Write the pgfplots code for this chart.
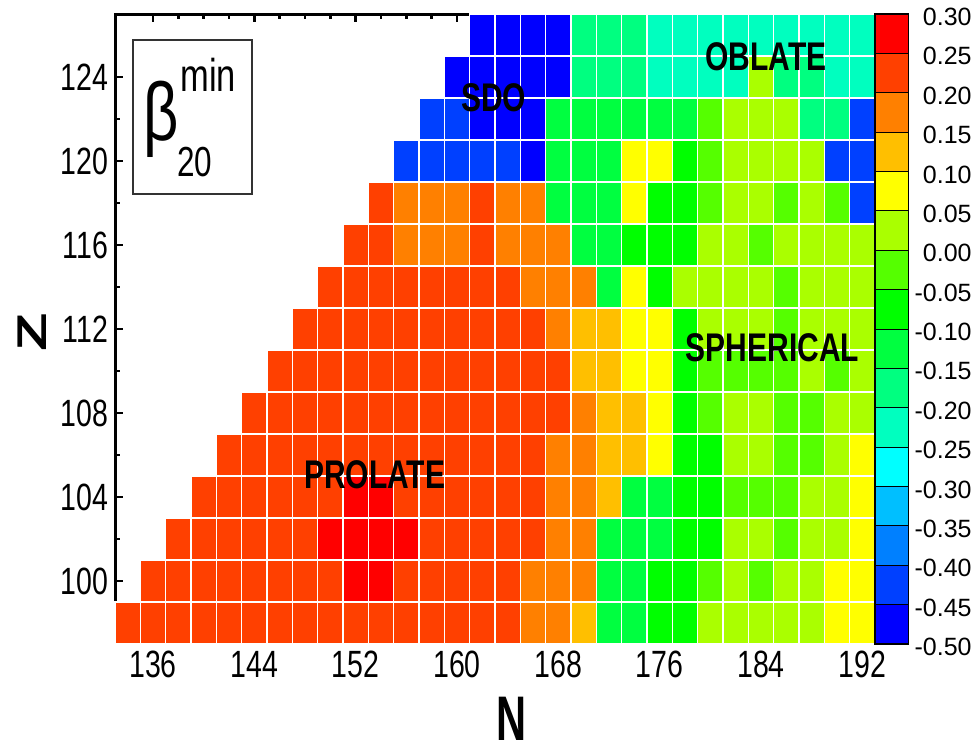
\documentclass[border=0pt]{standalone}
\usepackage{pgfplots}
\usepackage{pgfplotstable}
\pgfplotsset{compat=1.18}
\usepackage{fontspec}
\setmainfont{Liberation Sans}
\newfontfamily\narrowsans{Liberation Sans}[FakeStretch=0.75]
\newfontfamily\narrowersans{Liberation Sans}[FakeStretch=0.66]

% one nucleus = one 2x2 cell (12.667pt x 21pt at the chosen axis size)
\pgfdeclareplotmark{betacell}{%
  \pgfpathrectangle{\pgfpoint{-6.3333pt}{-10.5pt}}{\pgfpoint{12.6667pt}{21pt}}%
  \pgfusepathqfillstroke}
% one band of the colour scale (16 bands over 315pt)
\pgfdeclareplotmark{barcell}{%
  \pgfpathrectangle{\pgfpoint{-8.25pt}{-9.84375pt}}{\pgfpoint{16.5pt}{19.6875pt}}%
  \pgfusepathqfillstroke}

% sixteen bands of width 0.05 from -0.50 to 0.30
\pgfplotsset{
  colormap={betamap}{
    rgb255=(0,0,255) rgb255=(0,64,255) rgb255=(0,128,255) rgb255=(0,191,255)
    rgb255=(0,255,255) rgb255=(0,255,191) rgb255=(0,255,128) rgb255=(0,255,64)
    rgb255=(0,255,0) rgb255=(85,255,0) rgb255=(170,255,0) rgb255=(255,255,0)
    rgb255=(255,191,0) rgb255=(255,128,0) rgb255=(255,64,0) rgb255=(255,0,0)},
}

% ground-state quadrupole deformation beta_20 of even-even nuclei
\pgfplotstableread[row sep=\\]{
N Z b\\
% Z = 98
134 98 0.225\\ 136 98 0.225\\ 138 98 0.225\\ 140 98 0.225\\ 142 98 0.225\\ 144 98 0.225\\
146 98 0.225\\ 148 98 0.225\\ 150 98 0.225\\ 152 98 0.225\\ 154 98 0.225\\ 156 98 0.225\\
158 98 0.225\\ 160 98 0.225\\ 162 98 0.225\\ 164 98 0.225\\ 166 98 0.175\\ 168 98 0.175\\
170 98 0.125\\ 172 98 -0.125\\ 174 98 -0.125\\ 176 98 -0.075\\ 178 98 -0.075\\ 180 98 0.025\\
182 98 0.025\\ 184 98 0.025\\ 186 98 0.025\\ 188 98 0.025\\ 190 98 0.075\\ 192 98 0.075\\
% Z = 100
136 100 0.225\\ 138 100 0.225\\ 140 100 0.225\\ 142 100 0.225\\ 144 100 0.225\\ 146 100 0.225\\
148 100 0.225\\ 150 100 0.225\\ 152 100 0.275\\ 154 100 0.275\\ 156 100 0.225\\ 158 100 0.225\\
160 100 0.225\\ 162 100 0.225\\ 164 100 0.225\\ 166 100 0.175\\ 168 100 0.175\\ 170 100 0.175\\
172 100 -0.125\\ 174 100 -0.125\\ 176 100 -0.075\\ 178 100 -0.075\\ 180 100 -0.025\\ 182 100 0.025\\
184 100 -0.025\\ 186 100 0.025\\ 188 100 0.025\\ 190 100 0.075\\ 192 100 0.075\\
% Z = 102
138 102 0.225\\ 140 102 0.225\\ 142 102 0.225\\ 144 102 0.225\\ 146 102 0.225\\ 148 102 0.225\\
150 102 0.275\\ 152 102 0.275\\ 154 102 0.275\\ 156 102 0.275\\ 158 102 0.225\\ 160 102 0.225\\
162 102 0.225\\ 164 102 0.225\\ 166 102 0.225\\ 168 102 0.175\\ 170 102 0.175\\ 172 102 -0.125\\
174 102 -0.125\\ 176 102 -0.125\\ 178 102 -0.075\\ 180 102 -0.075\\ 182 102 0.025\\ 184 102 0.025\\
186 102 -0.025\\ 188 102 0.025\\ 190 102 0.025\\ 192 102 0.075\\
% Z = 104
140 104 0.225\\ 142 104 0.225\\ 144 104 0.225\\ 146 104 0.225\\ 148 104 0.225\\ 150 104 0.225\\
152 104 0.275\\ 154 104 0.275\\ 156 104 0.225\\ 158 104 0.225\\ 160 104 0.225\\ 162 104 0.225\\
164 104 0.225\\ 166 104 0.225\\ 168 104 0.175\\ 170 104 0.175\\ 172 104 0.125\\ 174 104 -0.125\\
176 104 -0.125\\ 178 104 -0.075\\ 180 104 -0.075\\ 182 104 -0.025\\ 184 104 -0.025\\ 186 104 -0.025\\
188 104 0.025\\ 190 104 0.025\\ 192 104 0.075\\
% Z = 106
142 106 0.225\\ 144 106 0.225\\ 146 106 0.225\\ 148 106 0.225\\ 150 106 0.225\\ 152 106 0.225\\
154 106 0.225\\ 156 106 0.225\\ 158 106 0.225\\ 160 106 0.225\\ 162 106 0.225\\ 164 106 0.225\\
166 106 0.225\\ 168 106 0.175\\ 170 106 0.175\\ 172 106 0.125\\ 174 106 0.125\\ 176 106 0.075\\
178 106 -0.075\\ 180 106 -0.075\\ 182 106 0.025\\ 184 106 0.025\\ 186 106 -0.025\\ 188 106 -0.025\\
190 106 0.025\\ 192 106 0.075\\
% Z = 108
144 108 0.225\\ 146 108 0.225\\ 148 108 0.225\\ 150 108 0.225\\ 152 108 0.225\\ 154 108 0.225\\
156 108 0.225\\ 158 108 0.225\\ 160 108 0.225\\ 162 108 0.225\\ 164 108 0.225\\ 166 108 0.225\\
168 108 0.225\\ 170 108 0.175\\ 172 108 0.125\\ 174 108 0.125\\ 176 108 0.075\\ 178 108 -0.075\\
180 108 -0.025\\ 182 108 0.025\\ 184 108 0.025\\ 186 108 -0.025\\ 188 108 -0.025\\ 190 108 0.025\\
192 108 0.025\\
% Z = 110
146 110 0.225\\ 148 110 0.225\\ 150 110 0.225\\ 152 110 0.225\\ 154 110 0.225\\ 156 110 0.225\\
158 110 0.225\\ 160 110 0.225\\ 162 110 0.225\\ 164 110 0.225\\ 166 110 0.225\\ 168 110 0.225\\
170 110 0.125\\ 172 110 0.125\\ 174 110 0.075\\ 176 110 0.075\\ 178 110 -0.075\\ 180 110 -0.025\\
182 110 -0.025\\ 184 110 -0.025\\ 186 110 -0.025\\ 188 110 0.025\\ 190 110 -0.025\\ 192 110 0.025\\
% Z = 112
148 112 0.225\\ 150 112 0.225\\ 152 112 0.225\\ 154 112 0.225\\ 156 112 0.225\\ 158 112 0.225\\
160 112 0.225\\ 162 112 0.225\\ 164 112 0.225\\ 166 112 0.225\\ 168 112 0.175\\ 170 112 0.125\\
172 112 0.125\\ 174 112 0.075\\ 176 112 0.075\\ 178 112 -0.075\\ 180 112 0.025\\ 182 112 0.025\\
184 112 0.025\\ 186 112 -0.025\\ 188 112 0.025\\ 190 112 0.025\\ 192 112 0.025\\
% Z = 114
150 114 0.225\\ 152 114 0.225\\ 154 114 0.225\\ 156 114 0.225\\ 158 114 0.225\\ 160 114 0.225\\
162 114 0.225\\ 164 114 0.225\\ 166 114 0.175\\ 168 114 0.175\\ 170 114 0.175\\ 172 114 -0.125\\
174 114 0.075\\ 176 114 -0.075\\ 178 114 0.025\\ 180 114 0.025\\ 182 114 0.025\\ 184 114 0.025\\
186 114 -0.025\\ 188 114 0.025\\ 190 114 0.025\\ 192 114 0.025\\
% Z = 116
152 116 0.225\\ 154 116 0.225\\ 156 116 0.175\\ 158 116 0.175\\ 160 116 0.175\\ 162 116 0.225\\
164 116 0.175\\ 166 116 0.175\\ 168 116 0.175\\ 170 116 -0.125\\ 172 116 -0.125\\ 174 116 -0.075\\
176 116 -0.075\\ 178 116 -0.075\\ 180 116 0.025\\ 182 116 0.025\\ 184 116 -0.025\\ 186 116 0.025\\
188 116 0.025\\ 190 116 0.025\\ 192 116 0.025\\
% Z = 118
154 118 0.225\\ 156 118 0.175\\ 158 118 0.175\\ 160 118 0.175\\ 162 118 0.225\\ 164 118 0.175\\
166 118 0.175\\ 168 118 -0.125\\ 170 118 -0.125\\ 172 118 -0.125\\ 174 118 0.075\\ 176 118 -0.075\\
178 118 -0.075\\ 180 118 -0.025\\ 182 118 0.025\\ 184 118 0.025\\ 186 118 -0.025\\ 188 118 0.025\\
190 118 -0.025\\ 192 118 -0.425\\
% Z = 120
156 120 -0.425\\ 158 120 -0.425\\ 160 120 -0.425\\ 162 120 -0.425\\ 164 120 -0.425\\ 166 120 -0.475\\
168 120 -0.125\\ 170 120 -0.125\\ 172 120 -0.125\\ 174 120 0.075\\ 176 120 0.075\\ 178 120 -0.075\\
180 120 -0.025\\ 182 120 0.025\\ 184 120 0.025\\ 186 120 0.025\\ 188 120 0.025\\ 190 120 -0.425\\
192 120 -0.425\\
% Z = 122
158 122 -0.425\\ 160 122 -0.425\\ 162 122 -0.475\\ 164 122 -0.475\\ 166 122 -0.475\\ 168 122 -0.125\\
170 122 -0.125\\ 172 122 -0.125\\ 174 122 -0.125\\ 176 122 -0.125\\ 178 122 -0.125\\ 180 122 -0.025\\
182 122 0.025\\ 184 122 0.025\\ 186 122 0.025\\ 188 122 -0.175\\ 190 122 -0.175\\ 192 122 -0.425\\
% Z = 124
160 124 -0.475\\ 162 124 -0.475\\ 164 124 -0.475\\ 166 124 -0.475\\ 168 124 -0.475\\ 170 124 -0.175\\
172 124 -0.175\\ 174 124 -0.175\\ 176 124 -0.225\\ 178 124 -0.225\\ 180 124 -0.225\\ 182 124 -0.225\\
184 124 0.025\\ 186 124 -0.175\\ 188 124 -0.175\\ 190 124 -0.225\\ 192 124 -0.225\\
% Z = 126
162 126 -0.475\\ 164 126 -0.475\\ 166 126 -0.475\\ 168 126 -0.475\\ 170 126 -0.175\\ 172 126 -0.175\\
174 126 -0.175\\ 176 126 -0.225\\ 178 126 -0.225\\ 180 126 -0.225\\ 182 126 -0.225\\ 184 126 -0.225\\
186 126 -0.225\\ 188 126 -0.225\\ 190 126 -0.225\\ 192 126 -0.225\\
}\betadata

% the sixteen bands of the colour scale (centre of each band)
\pgfplotstableread[row sep=\\]{
x y\\
0.5 -0.475\\ 0.5 -0.425\\ 0.5 -0.375\\ 0.5 -0.325\\ 0.5 -0.275\\ 0.5 -0.225\\
0.5 -0.175\\ 0.5 -0.125\\ 0.5 -0.075\\ 0.5 -0.025\\ 0.5 0.025\\ 0.5 0.075\\
0.5 0.125\\ 0.5 0.175\\ 0.5 0.225\\ 0.5 0.275\\
}\bandsdata

\begin{document}
\begin{tikzpicture}
\useasboundingbox (0,0) rectangle (488pt,375pt);

\begin{axis}[
  at={(57.5pt,53pt)}, anchor=south west,
  scale only axis, width=380pt, height=315pt,
  xmin=133, xmax=193, ymin=97, ymax=127,
  xtick={136,144,...,192}, ytick={100,104,...,124},
  minor x tick num=3, minor y tick num=1,
  tick align=inside,
  major tick length=4pt, minor tick length=2.3pt,
  tick style={black, line width=1.2pt},
  axis line style={black, line width=1.5pt},
  axis on top,
  colormap name=betamap, colormap access=piecewise constant,
  point meta min=-0.5, point meta max=0.3,
  /pgf/number format/assume math mode=true,
  tick label style={font=\narrowsans\fontsize{19}{20}\selectfont},
  xlabel={\narrowersans\bfseries\fontsize{31.5}{32}\selectfont N},
  xlabel style={at={(axis description cs:0.522,-0.119)}, anchor=center, inner sep=0pt},
  ylabel={\scalebox{1}[0.66]{\bfseries\fontsize{31.5}{32}\selectfont Z}},
  ylabel style={at={(axis description cs:-0.109,0.495)}, anchor=center, inner sep=0pt},
]
  \addplot[scatter, only marks, mark=betacell, line width=0.7pt,
    point meta=explicit,
    scatter/use mapped color={draw=white, fill=mapped color}]
    table[x=N, y=Z, meta=b] {\betadata};

  % anchor points of the region labels, set after the cells are drawn
  \coordinate (sdo) at (axis cs:162.9,123.0);
  \coordinate (obl) at (axis cs:184.4,124.95);
  \coordinate (sph) at (axis cs:184.9,111.1);
  \coordinate (pro) at (axis cs:153.5,105.05);

  % quantity label in its framed box
  \draw[line width=0.6pt, black!80] (axis cs:134.42,118.43) rectangle (axis cs:143.82,125.76);
  \node[anchor=base, inner sep=0pt, font=\narrowsans\fontsize{41}{41}\selectfont] at (axis cs:136.63,121.0) {β};
  \node[anchor=base west, inner sep=0pt, font=\narrowsans\fontsize{23}{23}\selectfont] at (axis cs:138.13,123.29) {min};
  \node[anchor=base west, inner sep=0pt, font=\narrowsans\fontsize{21}{21}\selectfont] at (axis cs:137.9,119.24) {20};
\end{axis}

\begin{scope}[every node/.style={font=\narrowsans\bfseries\fontsize{20}{20}\selectfont}]
  \node at (sdo) {SDO};
  \node at (obl) {OBLATE};
  \node at (sph) {SPHERICAL};
  \node at (pro) {PROLATE};
\end{scope}

% colour scale
\begin{axis}[
  at={(437.5pt,53pt)}, anchor=south west,
  scale only axis, width=16.5pt, height=315pt,
  xmin=0, xmax=1, ymin=-0.5, ymax=0.3,
  xtick=\empty,
  ytick={-0.5,-0.45,-0.4,-0.35,-0.3,-0.25,-0.2,-0.15,-0.1,-0.05,0,0.05,0.1,0.15,0.2,0.25,0.3},
  yticklabels={-0.50,-0.45,-0.40,-0.35,-0.30,-0.25,-0.20,-0.15,-0.10,-0.05,0.00,0.05,0.10,0.15,0.20,0.25,0.30},
  yticklabel pos=right,
  ytick style={draw=none},
  yticklabel style={font=\fontsize{12.5}{13}\selectfont, anchor=east, inner sep=0pt, xshift=32pt, yshift=-1.5pt},
  axis line style={black, line width=1pt},
  axis on top,
  colormap name=betamap, colormap access=piecewise constant,
  point meta min=-0.5, point meta max=0.3,
]
  \addplot[scatter, only marks, mark=barcell, line width=0.5pt,
    point meta=explicit,
    scatter/use mapped color={draw=black, fill=mapped color}]
    table[x=x, y=y, meta=y] {\bandsdata};
\end{axis}
\end{tikzpicture}
\end{document}
